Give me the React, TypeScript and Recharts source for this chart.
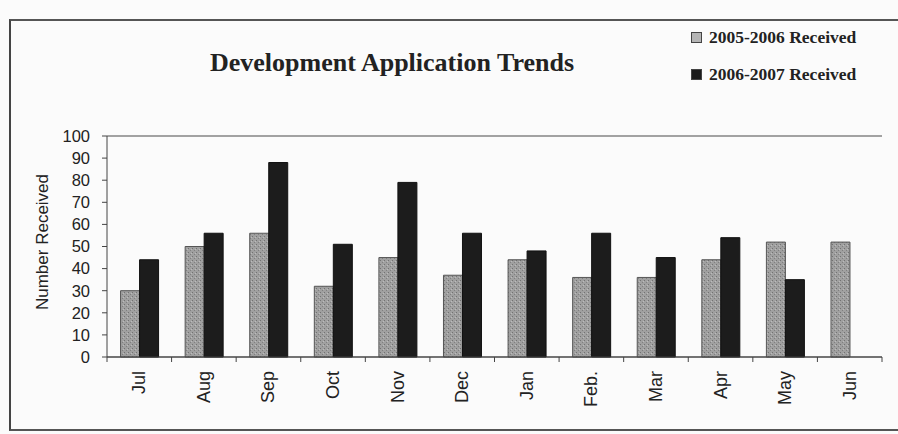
import React from 'react';
import { BarChart, Bar, XAxis, YAxis, CartesianGrid, Legend } from 'recharts';

const months = ['Jul', 'Aug', 'Sep', 'Oct', 'Nov', 'Dec', 'Jan', 'Feb.', 'Mar', 'Apr', 'May', 'Jun'];
const received0506 = [30, 50, 56, 32, 45, 37, 44, 36, 36, 44, 52, 52];
const received0607: (number | null)[] = [44, 56, 88, 51, 79, 56, 48, 56, 45, 54, 35, null];
const yTicks = [0, 10, 20, 30, 40, 50, 60, 70, 80, 90, 100];
const seriesNames = ['2005-2006 Received', '2006-2007 Received'];

const data = months.map((m, i) => ({ month: m, a: received0506[i], b: received0607[i] }));

const SANS = '"Liberation Sans", Arial, sans-serif';
const SERIF = '"Liberation Serif", "Times New Roman", serif';

const XTick = (props: any) => {
  const { x, y, payload, index } = props;
  const off = payload.offset || 0;
  return (
    <g>
      <line x1={x - off} x2={x - off} y1={y} y2={y + 5} stroke="#444" strokeWidth={1} />
      {index === months.length - 1 && (
        <line x1={x + off} x2={x + off} y1={y} y2={y + 5} stroke="#444" strokeWidth={1} />
      )}
      <text
        x={x}
        y={y + 14}
        transform={`rotate(-90 ${x} ${y + 14})`}
        textAnchor="end"
        dominantBaseline="central"
        fontFamily={SANS}
        fontSize={18}
        fill="#222"
      >
        {payload.value}
      </text>
    </g>
  );
};

const LegendContent = () => (
  <div style={{ fontFamily: SERIF, fontWeight: 'bold', fontSize: 17.5, color: '#222' }}>
    {seriesNames.map((n, i) => (
      <div key={n} style={{ display: 'flex', alignItems: 'center', height: 20, marginBottom: i === 0 ? 17 : 0 }}>
        <span
          style={{
            display: 'inline-block',
            width: 9,
            height: 9,
            background: i === 0 ? '#b5b5b5' : '#1c1c1c',
            border: '1px solid #444',
            marginRight: 7,
          }}
        />
        <span>{n}</span>
      </div>
    ))}
  </div>
);

export default function App() {
  return (
    <div style={{ position: 'absolute', left: 0, top: 0, width: 898, height: 434, background: '#fbfbfb', overflow: 'hidden' }}>
      <div
        style={{
          position: 'absolute',
          left: 9,
          top: 19,
          width: 900,
          height: 408,
          borderLeft: '2px solid #444',
          borderTop: '2px solid #555',
          borderBottom: '2px solid #555',
        }}
      />
      <div
        style={{
          position: 'absolute',
          left: 210,
          top: 48,
          whiteSpace: 'nowrap',
          fontFamily: SERIF,
          fontWeight: 'bold',
          fontSize: 26,
          color: '#222',
        }}
      >
        Development Application Trends
      </div>
      <svg width={60} height={434} style={{ position: 'absolute', left: 0, top: 0 }}>
        <text
          x={42}
          y={242}
          transform="rotate(-90 42 242)"
          textAnchor="middle"
          dominantBaseline="central"
          fontFamily={SANS}
          fontSize={17}
          fill="#222"
        >
          Number Received
        </text>
      </svg>
      <div style={{ position: 'absolute', left: 0, top: 0 }}>
        <BarChart
          width={898}
          height={434}
          data={data}
          margin={{ top: 136, right: 16, bottom: 17, left: 0 }}
          barCategoryGap="21%"
          barGap={0}
        >
          <defs>
            <pattern id="stipple" width="4" height="4" patternUnits="userSpaceOnUse">
              <rect width="4" height="4" fill="#a0a0a0" />
              <rect x="0" y="0" width="1" height="1" fill="#727272" />
              <rect x="2" y="2" width="1" height="1" fill="#808080" />
              <rect x="3" y="1" width="1" height="1" fill="#bcbcbc" />
            </pattern>
          </defs>
          <CartesianGrid vertical={false} stroke="#4a4a4a" strokeWidth={1.2} />
          <XAxis
            dataKey="month"
            height={60}
            interval={0}
            axisLine={{ stroke: '#444' }}
            tickLine={false}
            tickSize={0}
            tickMargin={0}
            tick={<XTick />}
          />
          <YAxis
            yAxisId="left"
            width={107}
            domain={[0, 100]}
            ticks={yTicks}
            interval={0}
            axisLine={{ stroke: '#444' }}
            tickLine={{ stroke: '#444' }}
            tickSize={5}
            tickMargin={12}
            tick={{ fontFamily: SANS, fontSize: 16.5, fill: '#222' }}
          />
          <YAxis
            yAxisId="right"
            orientation="right"
            width={0}
            domain={[0, 100]}
            tick={false}
            tickLine={false}
            axisLine={{ stroke: '#444' }}
          />
          <Legend
            layout="vertical"
            align="center"
            verticalAlign="middle"
            content={<LegendContent />}
            wrapperStyle={{ position: 'absolute', left: 691, top: 27, width: 200 }}
          />
          <Bar yAxisId="left" dataKey="a" name={seriesNames[0]} fill="url(#stipple)" stroke="#555" strokeWidth={1} isAnimationActive={false} />
          <Bar yAxisId="left" dataKey="b" name={seriesNames[1]} fill="#1c1c1c" stroke="#111" strokeWidth={1} isAnimationActive={false} />
        </BarChart>
      </div>
    </div>
  );
}
